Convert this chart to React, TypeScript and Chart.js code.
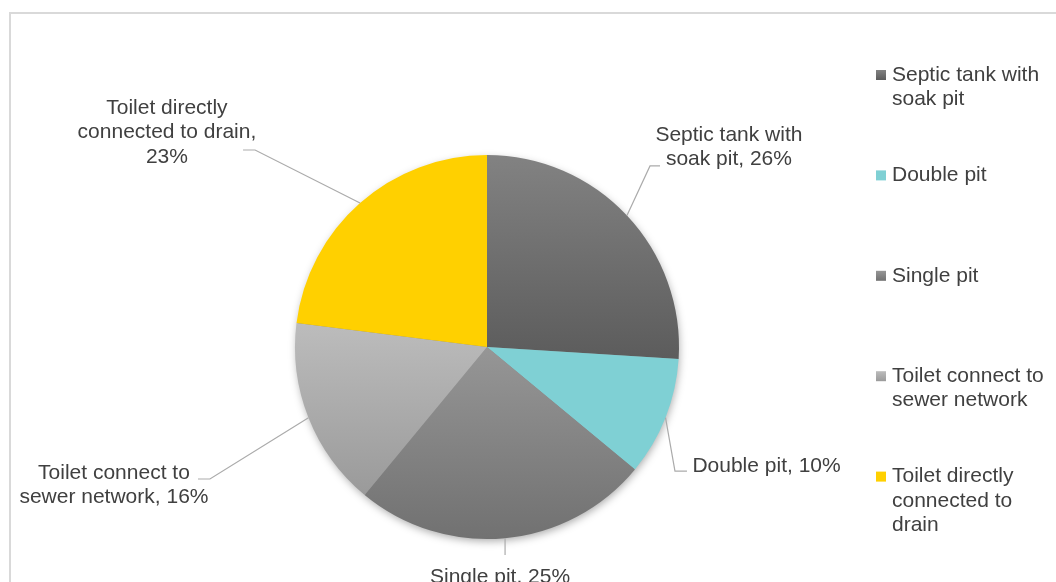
import React, { useEffect, useRef } from "react";
import { Chart, registerables } from "chart.js";

Chart.register(...registerables);

const categories = [
  "Septic tank with soak pit",
  "Double pit",
  "Single pit",
  "Toilet connect to sewer network",
  "Toilet directly connected to drain",
];
const values = [26, 10, 25, 16, 23];

// slice fills: [top colour, bottom colour, gradient start (r units), gradient end (r units)]
const sliceFills: [string, string, number, number][] = [
  ["#828282", "#5c5c5c", -1, 0.06],
  ["#7fd0d4", "#7fd0d4", 0, 1],
  ["#969696", "#717171", 0, 1],
  ["#bcbcbc", "#9a9a9a", -0.12, 0.77],
  ["#ffd000", "#ffd000", 0, 1],
];

// label placement (in radius units relative to centre)
const labelLayout = [
  { cx: 1.26, cy: -1.04, ex: 0.849, ey: -0.943, h: 10, wrap: 160 },
  { cx: 1.456, cy: 0.62, ex: 0.979, ey: 0.646, h: 12, wrap: 400 },
  { cx: 0.068, cy: 1.198, ex: NaN, ey: 1.083, h: 0, wrap: 400 },
  { cx: -1.943, cy: 0.719, ex: -1.443, ey: 0.6875, h: -12, wrap: 195 },
  { cx: -1.667, cy: -1.117, ex: -1.208, ey: -1.026, h: -12, wrap: 190 },
];

const FONT = "21px 'Liberation Sans', Arial, sans-serif";
const TEXT = "#404040";

function wrapText(ctx: CanvasRenderingContext2D, text: string, maxW: number): string[] {
  const words = text.split(" ");
  const lines: string[] = [];
  let cur = "";
  for (const w of words) {
    const t = cur ? cur + " " + w : w;
    if (cur && ctx.measureText(t).width > maxW) {
      lines.push(cur);
      cur = w;
    } else cur = t;
  }
  if (cur) lines.push(cur);
  return lines;
}

const framePlugin = {
  id: "frame",
  beforeDraw(chart: any) {
    const ctx = chart.ctx;
    ctx.save();
    ctx.fillStyle = "#ffffff";
    ctx.fillRect(0, 0, chart.width, chart.height);
    ctx.strokeStyle = "#d9d9d9";
    ctx.lineWidth = 2;
    ctx.strokeRect(10, 13, chart.width + 50, chart.height + 50);
    ctx.restore();
  },
  beforeDatasetsDraw(chart: any) {
    const meta = chart.getDatasetMeta(0);
    const a = meta.data[0];
    if (!a) return;
    const ctx = chart.ctx;
    ctx.save();
    ctx.shadowColor = "rgba(0,0,0,0.35)";
    ctx.shadowBlur = 8;
    ctx.shadowOffsetX = 1;
    ctx.shadowOffsetY = 3;
    ctx.fillStyle = "#888888";
    ctx.beginPath();
    ctx.arc(a.x, a.y, a.outerRadius - 1, 0, Math.PI * 2);
    ctx.fill();
    ctx.restore();
  },
  afterDraw(chart: any) {
    const ctx = chart.ctx;
    const meta = chart.getDatasetMeta(0);
    ctx.save();
    ctx.font = FONT;
    ctx.textBaseline = "middle";
    const lh = 24.5;
    meta.data.forEach((arc: any, i: number) => {
      const L = labelLayout[i];
      const r = arc.outerRadius;
      const mid = (arc.startAngle + arc.endAngle) / 2;
      const sx = arc.x + r * Math.cos(mid);
      const sy = arc.y + r * Math.sin(mid);
      const exx = isNaN(L.ex) ? sx : arc.x + r * L.ex;
      const eyy = arc.y + r * L.ey;
      ctx.strokeStyle = "#ababab";
      ctx.lineWidth = 1.2;
      ctx.beginPath();
      ctx.moveTo(sx, sy);
      ctx.lineTo(exx, eyy);
      if (L.h) ctx.lineTo(exx + L.h, eyy);
      ctx.stroke();
      const txt = `${categories[i]}, ${values[i]}%`;
      const lines = wrapText(ctx, txt, L.wrap);
      const cx = arc.x + r * L.cx;
      const cy = arc.y + r * L.cy;
      ctx.fillStyle = TEXT;
      ctx.textAlign = "center";
      lines.forEach((ln, k) => {
        ctx.fillText(ln, cx, cy + (k - (lines.length - 1) / 2) * lh);
      });
    });
    // legend
    ctx.textAlign = "left";
    categories.forEach((c, i) => {
      const y0 = 75 + 100.4 * i;
      const f = sliceFills[i];
      const g = ctx.createLinearGradient(0, y0 - 5, 0, y0 + 5);
      g.addColorStop(0, f[0]);
      g.addColorStop(1, f[1]);
      ctx.fillStyle = g;
      ctx.fillRect(876, y0 - 5, 10, 10);
      ctx.fillStyle = TEXT;
      const lines = wrapText(ctx, c, 160);
      lines.forEach((ln, k) => ctx.fillText(ln, 892, y0 + k * lh));
    });
    ctx.restore();
  },
};

export default function App() {
  const ref = useRef<HTMLCanvasElement>(null);
  useEffect(() => {
    if (!ref.current) return;
    const chart = new Chart(ref.current, {
      type: "pie",
      data: {
        labels: categories,
        datasets: [
          {
            data: values,
            borderWidth: 0,
            backgroundColor: (c: any) => {
              const chart = c.chart;
              const area = chart.chartArea;
              const f = sliceFills[c.dataIndex] || sliceFills[0];
              if (!area) return f[0];
              const cy = (area.top + area.bottom) / 2;
              const r = Math.min(area.right - area.left, area.bottom - area.top) / 2;
              const g = chart.ctx.createLinearGradient(0, cy + r * f[2], 0, cy + r * f[3]);
              g.addColorStop(0, f[0]);
              g.addColorStop(1, f[1]);
              return g;
            },
          },
        ],
      },
      options: {
        responsive: false,
        animation: false,
        devicePixelRatio: 1,
        layout: { padding: { left: 295, right: 377, top: 155, bottom: 43 } },
        plugins: { legend: { display: false }, tooltip: { enabled: false } },
      },
      plugins: [framePlugin],
    });
    return () => chart.destroy();
  }, []);
  return (
    <div style={{ position: "absolute", left: 0, top: 0, width: 1056, height: 582 }}>
      <canvas ref={ref} width={1056} height={582} />
    </div>
  );
}
